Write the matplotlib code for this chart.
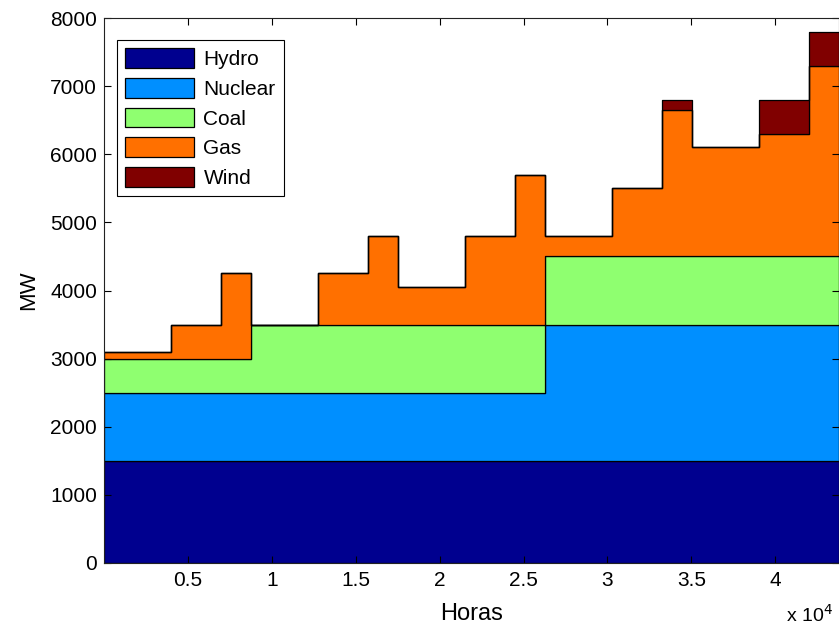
import numpy as np
import matplotlib.pyplot as plt
from matplotlib.ticker import FuncFormatter

# Data: 5 years x 3 load blocks per year (hours per block)
block_hours = [4000, 3000, 1760]
n_years = 5

hydro   = [1500, 1500, 1500, 1500, 1500, 1500, 1500, 1500, 1500, 1500, 1500, 1500, 1500, 1500, 1500]
nuclear = [1000, 1000, 1000, 1000, 1000, 1000, 1000, 1000, 1000, 2000, 2000, 2000, 2000, 2000, 2000]
coal    = [500, 500, 500, 1000, 1000, 1000, 1000, 1000, 1000, 1000, 1000, 1000, 1000, 1000, 1000]
gas     = [100, 500, 1250, 0, 750, 1300, 550, 1300, 2200, 300, 1000, 2150, 1600, 1800, 2800]
wind    = [0, 0, 0, 0, 0, 0, 0, 0, 0, 0, 0, 150, 0, 500, 500]

labels = ["Hydro", "Nuclear", "Coal", "Gas", "Wind"]
colors = ["#00008F", "#008FFF", "#8FFF70", "#FF7000", "#800000"]

xticks = [5000, 10000, 15000, 20000, 25000, 30000, 35000, 40000]
yticks = [0, 1000, 2000, 3000, 4000, 5000, 6000, 7000, 8000]

plt.rcParams['font.family'] = ['Liberation Sans', 'DejaVu Sans']

# step edges
edges = np.concatenate([[0], np.cumsum(np.tile(block_hours, n_years))])
series = [hydro, nuclear, coal, gas, wind]
series_ext = [np.append(s, s[-1]) for s in series]

fig = plt.figure(figsize=(8.39, 6.28), dpi=100)
ax = fig.add_axes([104 / 839, 65 / 628, 735 / 839, 545 / 628])

ax.stackplot(edges, *series_ext, step='post', colors=colors, labels=labels,
             edgecolor='black', linewidth=0.9)

ax.set_xlim(0, edges[-1])
ax.set_ylim(0, 8000)
ax.set_xticks(xticks)
ax.set_yticks(yticks)
ax.xaxis.set_major_formatter(FuncFormatter(lambda v, p: f"{v / 1e4:g}"))
ax.tick_params(direction='in', top=True, right=True, length=5, width=0.8,
               labelsize=15)
ax.tick_params(axis='y', pad=5)
ax.tick_params(axis='x', pad=6)
for s in ax.spines.values():
    s.set_linewidth(0.8)
    s.set_color('#222222')

ax.set_xlabel("Horas", fontsize=17, labelpad=9)
ax.set_ylabel("MW", fontsize=16, labelpad=8)
fig.text(786 / 839, 1 - 615 / 628, r"x 10$^4$", fontsize=14, ha='left', va='center')

leg = ax.legend(loc='upper left', bbox_to_anchor=(13 / 735, 1 - 22 / 545),
                borderaxespad=0, fontsize=15, fancybox=False, framealpha=1,
                edgecolor='black', handlelength=3.3, handleheight=1.08,
                labelspacing=0.42, handletextpad=0.45, borderpad=0.4)
leg.get_frame().set_linewidth(0.8)

fig.savefig("out.png", dpi=100)
